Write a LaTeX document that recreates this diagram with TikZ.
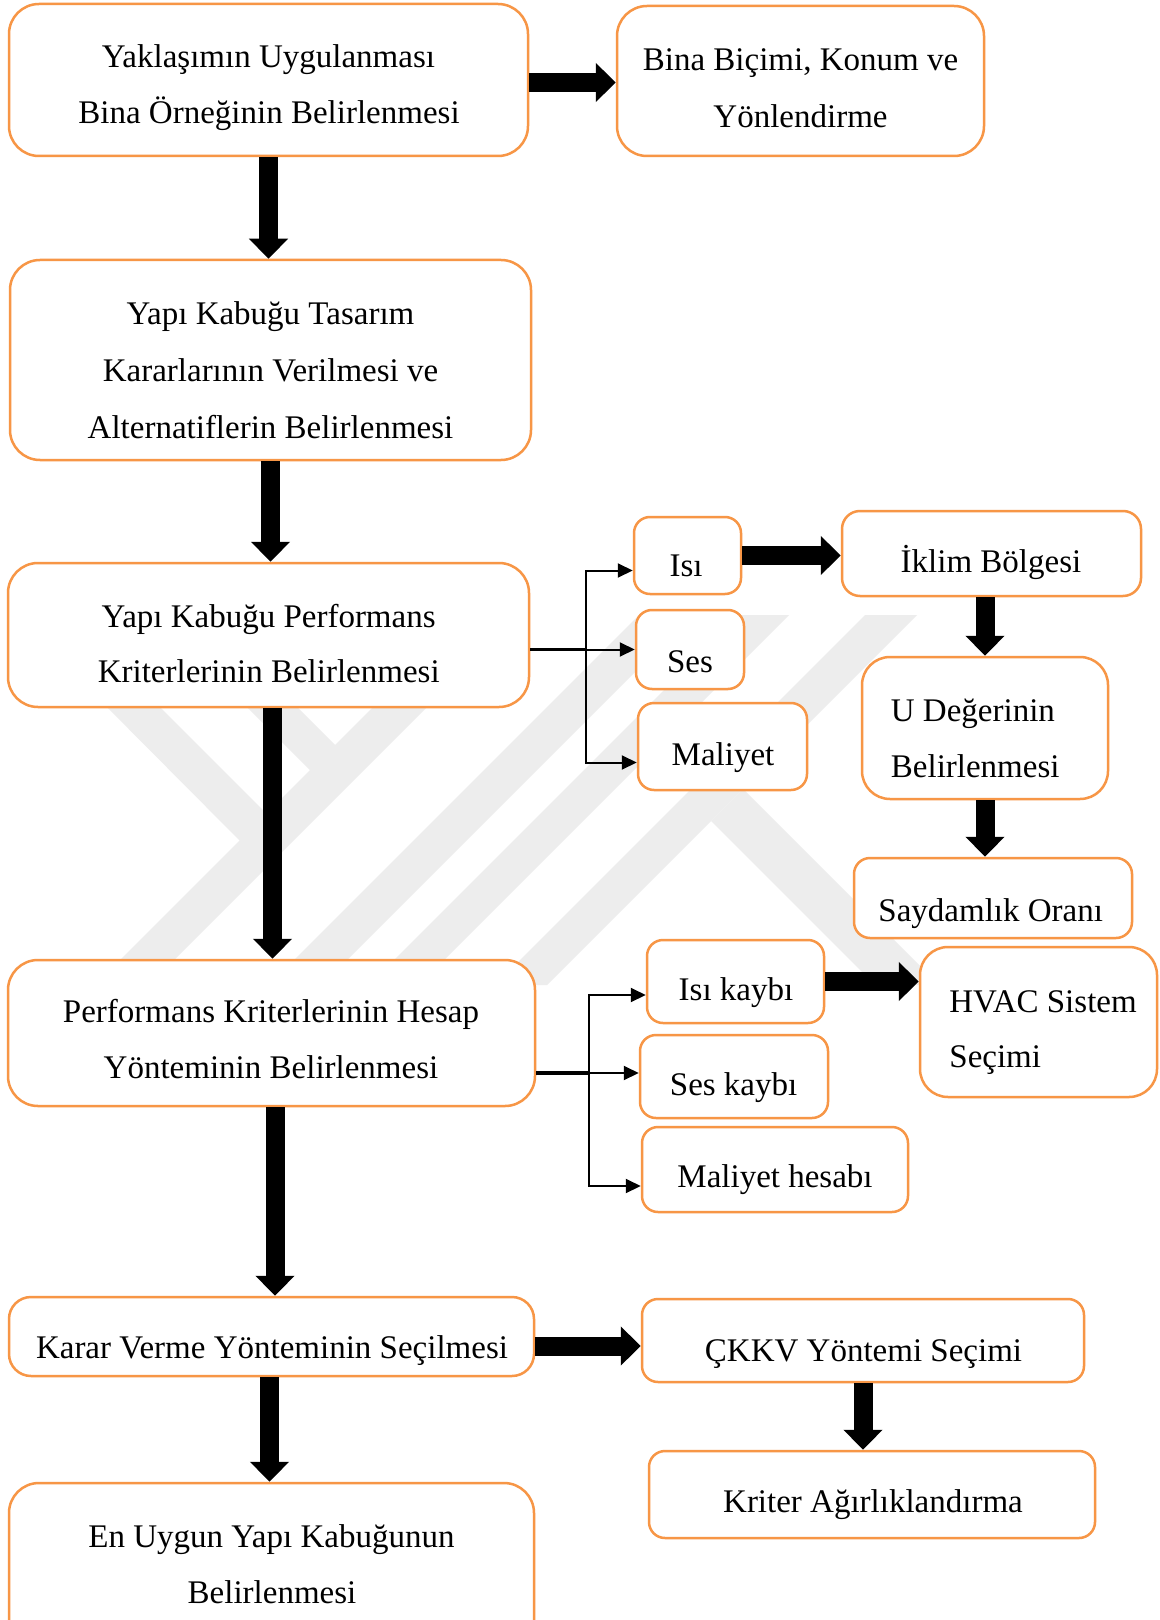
\documentclass[tikz,border=0pt]{standalone}
\usepackage{fontspec}
\setmainfont{Liberation Serif}
\usetikzlibrary{arrows.meta,fit,calc}
\definecolor{boxorange}{HTML}{F79646}
\definecolor{wmgray}{HTML}{EDEDED}
\begin{document}
\begin{tikzpicture}[x=0.5pt,y=-0.5pt,
  box/.style={draw=boxorange, line width=1.25pt, fill=white, inner sep=0pt},
  lbl/.style={anchor=base, inner sep=0pt, font=\fontsize{16.5}{20}\selectfont},
  lbll/.style={lbl, anchor=base west},
  bigarrow/.style={line width=9.5pt, -{Triangle[width=19pt,length=10pt]}},
  thinarrow/.style={line width=1pt, -{Triangle[width=7pt,length=7.5pt]}},
  stem/.style={line width=1.75pt},
  wm/.style={fill=wmgray, draw=none}]
\clip (0,0) rectangle (1160,1620);
\fill[white] (0,0) rectangle (1160,1620);
% watermark
\fill[wm] (95,985) -- (149,985) -- (519,615) -- (465,615) -- cycle;
\fill[wm] (90,690) -- (143,690) -- (272,819) -- (245,846) -- cycle;
\fill[wm] (230,690) -- (280,690) -- (340,750) -- (313,773) -- cycle;
\fill[wm] (269,985) -- (322,985) -- (692,615) -- (639,615) -- cycle;
\fill[wm] (369,985) -- (419,985) -- (789,615) -- (739,615) -- cycle;
\fill[wm] (495,985) -- (547,985) -- (917,615) -- (865,615) -- cycle;
\fill[wm] (743,789) -- (939,985) -- (875,985) -- (711,821) -- cycle;
% boxes
\node[box, rounded corners=15pt, fit={(9,4)(528,156)}] (b1) {};
\node[box, rounded corners=15pt, fit={(617,6)(984,156)}] (b2) {};
\node[box, rounded corners=15pt, fit={(10,260)(531,460)}] (b3) {};
\node[box, rounded corners=15pt, fit={(8,563)(529,707)}] (b4) {};
\node[box, rounded corners=15pt, fit={(8,960)(535,1106)}] (b5) {};
\node[box, rounded corners=11pt, fit={(9,1297)(534,1376)}] (b6) {};
\node[box, rounded corners=15pt, fit={(9,1483)(534,1650)}] (b7) {};
\node[box, rounded corners=8pt, fit={(634,517)(741,594)}] (isi) {};
\node[box, rounded corners=8pt, fit={(636,610)(744,689)}] (ses) {};
\node[box, rounded corners=8pt, fit={(638,703)(807,790)}] (mal) {};
\node[box, rounded corners=9pt, fit={(842,511)(1141,596)}] (ikl) {};
\node[box, rounded corners=14pt, fit={(862,657)(1108,799)}] (u) {};
\node[box, rounded corners=8pt, fit={(854,858)(1132,938)}] (say) {};
\node[box, rounded corners=8pt, fit={(647,940)(824,1023)}] (isik) {};
\node[box, rounded corners=8pt, fit={(640,1035)(828,1118)}] (seskay) {};
\node[box, rounded corners=8pt, fit={(642,1127)(908,1212)}] (malh) {};
\node[box, rounded corners=14pt, fit={(920,947)(1157,1097)}] (hvac) {};
\node[box, rounded corners=8pt, fit={(642,1299)(1084,1382)}] (ckkv) {};
\node[box, rounded corners=8pt, fit={(649,1451)(1095,1538)}] (krit) {};
% texts
\node[lbl] (t1a) at (268.5,68) {Yaklaşımın Uygulanması};
\node[lbl] (t1b) at (269,124) {Bina Örneğinin Belirlenmesi};
\node[lbl] (t2a) at (800.5,71) {Bina Biçimi, Konum ve};
\node[lbl] (t2b) at (800.5,128) {Yönlendirme};
\node[lbl] (t3a) at (270.5,325) {Yapı Kabuğu Tasarım};
\node[lbl] (t3b) at (270.5,382) {Kararlarının Verilmesi ve};
\node[lbl] (t3c) at (270.5,438) {Alternatiflerin Belirlenmesi};
\node[lbl] (t4a) at (268.7,627) {Yapı Kabuğu Performans};
\node[lbl] (t4b) at (268.7,682) {Kriterlerinin Belirlenmesi};
\node[lbl] (t5a) at (271,1022) {Performans Kriterlerinin Hesap};
\node[lbl] (t5b) at (271,1078) {Yönteminin Belirlenmesi};
\node[lbl] (t6) at (272,1358) {Karar Verme Yönteminin Seçilmesi};
\node[lbl] (t7a) at (271.5,1547) {En Uygun Yapı Kabuğunun};
\node[lbl] (t7b) at (272,1603) {Belirlenmesi};
\node[lbl] (tisi) at (686,576) {Isı};
\node[lbl] (tses) at (690,672) {Ses};
\node[lbl] (tmal) at (723,765) {Maliyet};
\node[lbl] (tikl) at (991,572) {İklim Bölgesi};
\node[lbll] (tua) at (890.5,721) {U Değerinin};
\node[lbll] (tub) at (890.5,777) {Belirlenmesi};
\node[lbl] (tsay) at (990.7,921) {Saydamlık Oranı};
\node[lbl] (tisik) at (736,1000) {Isı kaybı};
\node[lbl] (tseskay) at (733.6,1095) {Ses kaybı};
\node[lbl] (tmalh) at (775,1187) {Maliyet hesabı};
\node[lbll] (thva) at (949,1012) {HVAC Sistem};
\node[lbll] (thvb) at (949,1067) {Seçimi};
\node[lbl] (tckkv) at (863.5,1361) {ÇKKV Yöntemi Seçimi};
\node[lbl] (tkrit) at (873,1512) {Kriter Ağırlıklandırma};
% big arrows
\draw[bigarrow] ([yshift=-1.25pt]b1.east) -- ([yshift=-1.25pt]b1.east -| b2.west);
\draw[bigarrow] (b1.south) -- (b1.south |- b3.north);
\draw[bigarrow] (b3.south) -- (b3.south |- b4.north);
\draw[bigarrow] ([xshift=2pt]b4.south) -- ([xshift=2pt]b4.south |- b5.north);
\draw[bigarrow] ([xshift=1.75pt]b5.south) -- ([xshift=1.75pt]b5.south |- b6.north);
\draw[bigarrow] ([xshift=-1pt]b6.south) -- ([xshift=-1pt]b6.south |- b7.north);
\draw[bigarrow] (isi.east) -- (isi.east -| ikl.west);
\draw[bigarrow] (ikl.south -| u.north) -- (u.north);
\draw[bigarrow] (u.south) -- (u.south |- say.north);
\draw[bigarrow] (isik.east) -- (isik.east -| hvac.west);
\draw[bigarrow] ([yshift=-4.75pt]b6.east) -- ([yshift=-4.75pt]b6.east -| ckkv.west);
\draw[bigarrow] (ckkv.south) -- (ckkv.south |- krit.north);
% thin connectors
\coordinate (bus1) at (586,649.5);
\draw[stem] (b4.east |- bus1) -- (bus1);
\draw[thinarrow] (bus1) -- (bus1 -| ses.west);
\draw[thinarrow] (bus1) |- ([yshift=-7.5pt]isi.west);
\draw[thinarrow] (bus1) |- ([yshift=-8pt]mal.west);
\coordinate (bus2) at (589,1073);
\draw[stem] (b5.east |- bus2) -- (bus2);
\draw[thinarrow] (bus2) -- (bus2 -| seskay.west);
\draw[thinarrow] (bus2) |- ([yshift=-6.75pt]isik.west);
\draw[thinarrow] (bus2) |- ([yshift=-8.25pt]malh.west);
\end{tikzpicture}
\end{document}
